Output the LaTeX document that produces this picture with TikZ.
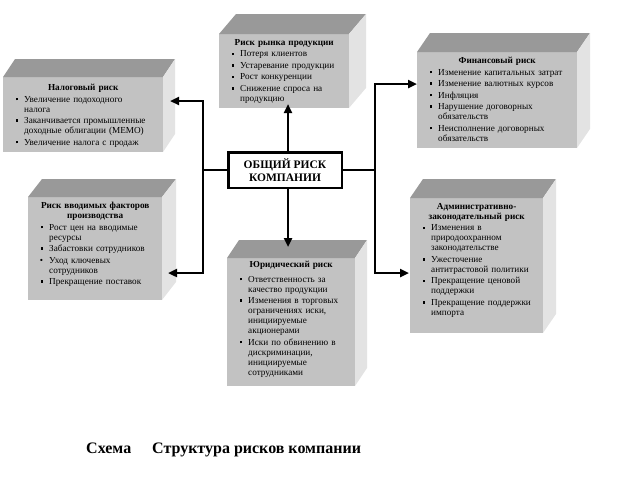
\documentclass[tikz,border=0pt]{standalone}
\usepackage{fontspec}
\setmainfont{Liberation Serif}
\usepackage{tikz}
\usetikzlibrary{arrows.meta, positioning, calc}

\definecolor{frontgray}{gray}{0.76}
\definecolor{topgray}{gray}{0.6}
\definecolor{sidegray}{gray}{0.89}

\newenvironment{risklist}{\begin{list}{\rule[1.6pt]{2.6pt}{2.6pt}}{%
  \setlength{\leftmargin}{17pt}\setlength{\labelsep}{6pt}\setlength{\labelwidth}{11pt}%
  \setlength{\itemsep}{1.5pt}\setlength{\parsep}{0pt}\setlength{\topsep}{1.5pt}%
  \setlength{\partopsep}{0pt}}}{\end{list}}

\begin{document}
\begin{tikzpicture}[x=1pt, y=-1pt,
    front/.style={fill=frontgray, anchor=north west, inner sep=0pt, outer sep=0pt},
    topface/.style={fill=topgray},
    sideface/.style={fill=sidegray},
    boxtext/.style={anchor=north west, inner xsep=4pt, inner ysep=5pt, align=left, font=\fontsize{9.2}{10}\selectfont},
    wire/.style={line width=2.6pt},
    arrowed/.style={-{Triangle[length=9pt, width=8pt]}},
    caption/.style={anchor=base west, inner sep=0pt, font=\bfseries\fontsize{16}{18}\selectfont}]
    \useasboundingbox (0,0) rectangle (626,480);

    % tax risk
    \node (tax) at (3,77) [front, minimum width=160, minimum height=75] {};
    \fill[topface] (tax.north west) -- ++(12,-18) -- ($(tax.north east)+(12,-18)$) -- (tax.north east) -- cycle;
    \fill[sideface] (tax.north east) -- ++(12,-18) -- ($(tax.south east)+(12,-18)$) -- (tax.south east) -- cycle;
    \node (taxtext) at (tax.north west) [boxtext, inner ysep=7pt, text width=152] {%
      {\centering\bfseries Налоговый риск\par}
      \begin{risklist}
      \item Увеличение подоходного\\ налога
      \item Заканчивается промышленные\\ доходные облигации (MEMO)
      \item Увеличение налога с продаж
      \end{risklist}};

    % market risk
    \node (market) at (219,34) [front, minimum width=130, minimum height=74] {};
    \fill[topface] (market.north west) -- ++(17,-20) -- ($(market.north east)+(17,-20)$) -- (market.north east) -- cycle;
    \fill[sideface] (market.north east) -- ++(17,-20) -- ($(market.south east)+(17,-20)$) -- (market.south east) -- cycle;
    \node (markettext) at (market.north west) [boxtext, text width=122] {%
      {\centering\bfseries Риск рынка продукции\par}
      \begin{risklist}
      \item Потеря клиентов
      \item Устаревание продукции
      \item Рост конкуренции
      \item Снижение спроса на\\ продукцию
      \end{risklist}};

    % financial risk
    \node (finance) at (417,52) [front, minimum width=160, minimum height=96] {};
    \fill[topface] (finance.north west) -- ++(13,-19) -- ($(finance.north east)+(13,-19)$) -- (finance.north east) -- cycle;
    \fill[sideface] (finance.north east) -- ++(13,-19) -- ($(finance.south east)+(13,-19)$) -- (finance.south east) -- cycle;
    \node (financetext) at (finance.north west) [boxtext, text width=152] {%
      {\centering\bfseries Финансовый риск\par}
      \begin{risklist}
      \item Изменение капитальных затрат
      \item Изменение валютных курсов
      \item Инфляция
      \item Нарушение договорных\\ обязательств
      \item Неисполнение договорных\\ обязательств
      \end{risklist}};

    % input factors risk
    \node (inputs) at (28,197) [front, minimum width=134, minimum height=103] {};
    \fill[topface] (inputs.north west) -- ++(14,-18) -- ($(inputs.north east)+(14,-18)$) -- (inputs.north east) -- cycle;
    \fill[sideface] (inputs.north east) -- ++(14,-18) -- ($(inputs.south east)+(14,-18)$) -- (inputs.south east) -- cycle;
    \node (inputstext) at (inputs.north west) [boxtext, text width=126] {%
      {\centering\bfseries Риск вводимых факторов\\ производства\par}
      \begin{risklist}
      \item Рост цен на вводимые\\ ресурсы
      \item Забастовки сотрудников
      \item[\textbullet] Уход ключевых\\ сотрудников
      \item Прекращение поставок
      \end{risklist}};

    % legal risk
    \node (legal) at (227,258) [front, minimum width=128, minimum height=128] {};
    \fill[topface] (legal.north west) -- ++(12,-18) -- ($(legal.north east)+(12,-18)$) -- (legal.north east) -- cycle;
    \fill[sideface] (legal.north east) -- ++(12,-18) -- ($(legal.south east)+(12,-18)$) -- (legal.south east) -- cycle;
    \node (legaltext) at (legal.north west) [boxtext, inner ysep=3pt, text width=120] {%
      {\centering\bfseries Юридический риск\par}
      \vspace{3pt}
      \begin{risklist}
      \item Ответственность за\\ качество продукции
      \item Изменения в торговых\\ ограничениях иски,\\ инициируемые\\ акционерами
      \item Иски по обвинению в\\ дискриминации,\\ инициируемые\\ сотрудниками
      \end{risklist}};

    % administrative risk
    \node (admin) at (410,198) [front, minimum width=133, minimum height=135] {};
    \fill[topface] (admin.north west) -- ++(13,-19) -- ($(admin.north east)+(13,-19)$) -- (admin.north east) -- cycle;
    \fill[sideface] (admin.north east) -- ++(13,-19) -- ($(admin.south east)+(13,-19)$) -- (admin.south east) -- cycle;
    \node (admintext) at (admin.north west) [boxtext, text width=125] {%
      {\centering\bfseries Административно-\\ законодательный риск\par}
      \begin{risklist}
      \item Изменения в\\ природоохранном\\ законодательстве
      \item Ужесточение\\ антитрастовой политики
      \item Прекращение ценовой\\ поддержки
      \item Прекращение поддержки\\ импорта
      \end{risklist}};

    % company risk
    \node (risk) at (285,170) [draw, line width=2.5pt, fill=white, minimum width=113.5, minimum height=35.5,
      align=center, font=\bfseries\fontsize{11.5}{13}\selectfont] {ОБЩИЙ РИСК\\ КОМПАНИИ};

    \coordinate (ljoin) at (203,170);
    \coordinate (rjoin) at (375,170);
    \coordinate (taxin) at (170,101);
    \coordinate (inputsin) at (168,273);
    \coordinate (financein) at (417,84);
    \coordinate (adminin) at (409,273);
    \coordinate (marketin) at (288,104);
    \coordinate (legalin) at (288,247);

    \draw[wire] (risk.west) -- (ljoin);
    \draw[wire, arrowed] (ljoin) |- (taxin);
    \draw[wire, arrowed] (ljoin) |- (inputsin);
    \draw[wire] (risk.east) -- (rjoin);
    \draw[wire, arrowed] (rjoin) |- (financein);
    \draw[wire, arrowed] (rjoin) |- (adminin);
    \draw[wire, arrowed] (risk.north -| marketin) -- (marketin);
    \draw[wire, arrowed] (risk.south -| legalin) -- (legalin);

    % caption
    \node (schemalabel) at (86,453) [caption] {Схема};
    \node (schematitle) at (152,453) [caption] {Структура рисков компании};
\end{tikzpicture}
\end{document}
